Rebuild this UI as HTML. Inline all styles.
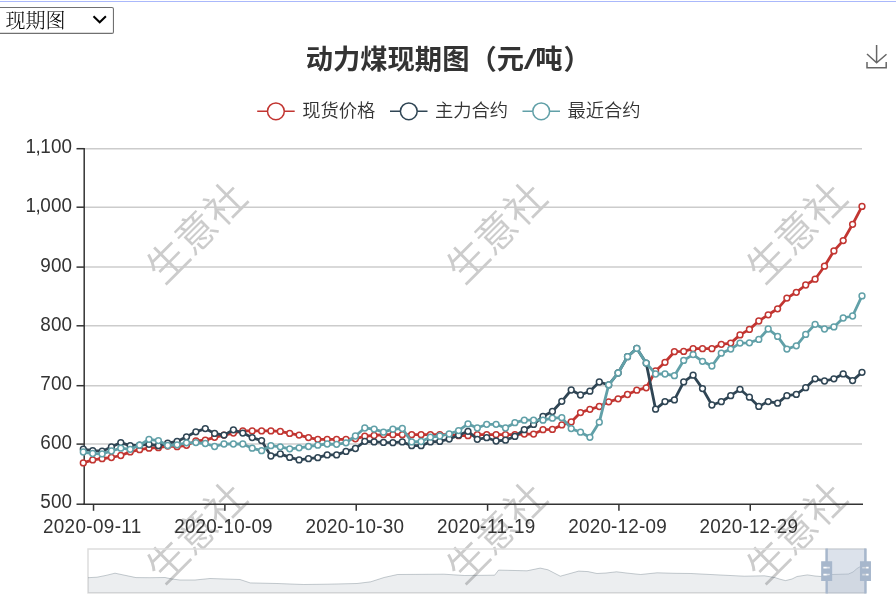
<!DOCTYPE html>
<html lang="zh-CN"><head><meta charset="utf-8"><title>动力煤现期图</title>
<style>
html,body{margin:0;padding:0;background:#fff;}
body{width:896px;height:614px;position:relative;overflow:hidden;font-family:"Liberation Sans","Noto Sans CJK SC",sans-serif;}
.topline{position:absolute;left:0;top:1px;width:896px;height:1px;background:#aab8fb;}
.sel{position:absolute;left:-2px;top:6.7px;width:114px;height:25.8px;border:1px solid transparent;border-radius:3.5px;background:transparent;box-sizing:content-box;}
.sel span{position:absolute;left:6.5px;top:1.5px;font-size:20px;font-weight:300;line-height:25.8px;color:#000;font-family:"Liberation Serif","Noto Serif CJK SC",serif;white-space:nowrap;}
.sel svg{position:absolute;left:93.0px;top:7.1px;}
</style></head><body>
<div class="topline"></div>
<svg width="896" height="614" viewBox="0 0 896 614" style="position:absolute;left:0;top:0;will-change:transform">
<text x="194.0" y="248.0" transform="rotate(-45 194.0 230.2)" text-anchor="middle" font-size="40.5" font-weight="350" fill="#cccccc" font-family='"Liberation Sans","Noto Sans CJK SC",sans-serif'>生意社</text>
<text x="494.0" y="248.0" transform="rotate(-45 494.0 230.2)" text-anchor="middle" font-size="40.5" font-weight="350" fill="#cccccc" font-family='"Liberation Sans","Noto Sans CJK SC",sans-serif'>生意社</text>
<text x="794.0" y="248.0" transform="rotate(-45 794.0 230.2)" text-anchor="middle" font-size="40.5" font-weight="350" fill="#cccccc" font-family='"Liberation Sans","Noto Sans CJK SC",sans-serif'>生意社</text>
<text x="194.0" y="548.0" transform="rotate(-45 194.0 530.2)" text-anchor="middle" font-size="40.5" font-weight="350" fill="#cccccc" font-family='"Liberation Sans","Noto Sans CJK SC",sans-serif'>生意社</text>
<text x="494.0" y="548.0" transform="rotate(-45 494.0 530.2)" text-anchor="middle" font-size="40.5" font-weight="350" fill="#cccccc" font-family='"Liberation Sans","Noto Sans CJK SC",sans-serif'>生意社</text>
<text x="794.0" y="548.0" transform="rotate(-45 794.0 530.2)" text-anchor="middle" font-size="40.5" font-weight="350" fill="#cccccc" font-family='"Liberation Sans","Noto Sans CJK SC",sans-serif'>生意社</text>
<rect x="-3" y="7.45" width="116.45" height="25.95" rx="1.5" fill="#fff" stroke="#707070" stroke-width="1.1"/>
<g font-size="27.3" font-weight="bold" fill="#333" font-family='"Liberation Sans","Noto Sans CJK SC",sans-serif'><text x="305.7" y="69.2">动力煤现期图（元</text><text transform="translate(523.8,69.2) scale(1.75,1)" x="0" y="0" font-weight="normal">/</text><text x="535.3" y="69.2">吨<tspan dx="1">）</tspan></text></g>
<line x1="257.2" y1="111.3" x2="294.7" y2="111.3" stroke="#c23531" stroke-width="1.5"/><circle cx="275.9" cy="111.3" r="8.4" fill="#fff" stroke="#c23531" stroke-width="1.5"/><text x="302.2" y="117.2" font-size="18.3" font-weight="350" fill="#333" font-family='"Liberation Sans","Noto Sans CJK SC",sans-serif'>现货价格</text>
<line x1="390.0" y1="111.3" x2="427.5" y2="111.3" stroke="#2f4554" stroke-width="1.5"/><circle cx="408.8" cy="111.3" r="8.4" fill="#fff" stroke="#2f4554" stroke-width="1.5"/><text x="435.0" y="117.2" font-size="18.3" font-weight="350" fill="#333" font-family='"Liberation Sans","Noto Sans CJK SC",sans-serif'>主力合约</text>
<line x1="522.5" y1="111.3" x2="560.0" y2="111.3" stroke="#61a0a8" stroke-width="1.5"/><circle cx="541.2" cy="111.3" r="8.4" fill="#fff" stroke="#61a0a8" stroke-width="1.5"/><text x="567.5" y="117.2" font-size="18.3" font-weight="350" fill="#333" font-family='"Liberation Sans","Noto Sans CJK SC",sans-serif'>最近合约</text>
<path d="M867.0,54.0 L876.6,62.8 L886.5,54.2 M867.0,62.1 L867.0,67.7 L886.2,67.7 L886.2,62.1 M876.6,62.7 L876.6,45.1" fill="none" stroke="#666" stroke-width="1.5"/>
<line x1="84" y1="148.7" x2="862" y2="148.7" stroke="#ccc" stroke-width="1.5"/><line x1="84" y1="207.2" x2="862" y2="207.2" stroke="#ccc" stroke-width="1.5"/><line x1="84" y1="267.1" x2="862" y2="267.1" stroke="#ccc" stroke-width="1.5"/><line x1="84" y1="325.8" x2="862" y2="325.8" stroke="#ccc" stroke-width="1.5"/><line x1="84" y1="385.7" x2="862" y2="385.7" stroke="#ccc" stroke-width="1.5"/><line x1="84" y1="444.1" x2="862" y2="444.1" stroke="#ccc" stroke-width="1.5"/>
<g stroke="#333" stroke-width="1.5"><line x1="84.2" y1="148" x2="84.2" y2="504.9"/><line x1="83.4" y1="504.2" x2="863" y2="504.2"/><line x1="76.5" y1="148.7" x2="84" y2="148.7"/><line x1="76.5" y1="207.2" x2="84" y2="207.2"/><line x1="76.5" y1="267.1" x2="84" y2="267.1"/><line x1="76.5" y1="325.8" x2="84" y2="325.8"/><line x1="76.5" y1="385.7" x2="84" y2="385.7"/><line x1="76.5" y1="444.1" x2="84" y2="444.1"/><line x1="76.5" y1="504.2" x2="84" y2="504.2"/><line x1="93.53" y1="504" x2="93.53" y2="510.8"/><line x1="224.88" y1="504" x2="224.88" y2="510.8"/><line x1="356.23" y1="504" x2="356.23" y2="510.8"/><line x1="487.58" y1="504" x2="487.58" y2="510.8"/><line x1="618.92" y1="504" x2="618.92" y2="510.8"/><line x1="750.27" y1="504" x2="750.27" y2="510.8"/></g>
<text transform="translate(71.9,153.1) scale(0.94,1)" x="0" y="0" text-anchor="end" font-size="20.1" fill="#333" font-family='"Liberation Sans","Noto Sans CJK SC",sans-serif'>1<tspan dx="-0.4">,</tspan><tspan dx="-0.5">100</tspan></text><text transform="translate(71.9,212.3) scale(0.94,1)" x="0" y="0" text-anchor="end" font-size="20.1" fill="#333" font-family='"Liberation Sans","Noto Sans CJK SC",sans-serif'>1<tspan dx="-0.4">,</tspan><tspan dx="-0.5">000</tspan></text><text transform="translate(71.9,271.5) scale(0.94,1)" x="0" y="0" text-anchor="end" font-size="20.1" fill="#333" font-family='"Liberation Sans","Noto Sans CJK SC",sans-serif'>900</text><text transform="translate(71.9,330.8) scale(0.94,1)" x="0" y="0" text-anchor="end" font-size="20.1" fill="#333" font-family='"Liberation Sans","Noto Sans CJK SC",sans-serif'>800</text><text transform="translate(71.9,390.0) scale(0.94,1)" x="0" y="0" text-anchor="end" font-size="20.1" fill="#333" font-family='"Liberation Sans","Noto Sans CJK SC",sans-serif'>700</text><text transform="translate(71.9,449.2) scale(0.94,1)" x="0" y="0" text-anchor="end" font-size="20.1" fill="#333" font-family='"Liberation Sans","Noto Sans CJK SC",sans-serif'>600</text><text transform="translate(71.9,508.4) scale(0.94,1)" x="0" y="0" text-anchor="end" font-size="20.1" fill="#333" font-family='"Liberation Sans","Noto Sans CJK SC",sans-serif'>500</text>
<text transform="translate(92.1,532.8) scale(0.94,1)" x="0" y="0" text-anchor="middle" font-size="20.1" fill="#333" textLength="104.7" lengthAdjust="spacing" font-family='"Liberation Sans","Noto Sans CJK SC",sans-serif'>2020-09-11</text><text transform="translate(223.4,532.8) scale(0.94,1)" x="0" y="0" text-anchor="middle" font-size="20.1" fill="#333" textLength="104.7" lengthAdjust="spacing" font-family='"Liberation Sans","Noto Sans CJK SC",sans-serif'>2020-10-09</text><text transform="translate(354.8,532.8) scale(0.94,1)" x="0" y="0" text-anchor="middle" font-size="20.1" fill="#333" textLength="104.7" lengthAdjust="spacing" font-family='"Liberation Sans","Noto Sans CJK SC",sans-serif'>2020-10-30</text><text transform="translate(486.1,532.8) scale(0.94,1)" x="0" y="0" text-anchor="middle" font-size="20.1" fill="#333" textLength="104.7" lengthAdjust="spacing" font-family='"Liberation Sans","Noto Sans CJK SC",sans-serif'>2020-11-19</text><text transform="translate(617.5,532.8) scale(0.94,1)" x="0" y="0" text-anchor="middle" font-size="20.1" fill="#333" textLength="104.7" lengthAdjust="spacing" font-family='"Liberation Sans","Noto Sans CJK SC",sans-serif'>2020-12-09</text><text transform="translate(748.8,532.8) scale(0.94,1)" x="0" y="0" text-anchor="middle" font-size="20.1" fill="#333" textLength="104.7" lengthAdjust="spacing" font-family='"Liberation Sans","Noto Sans CJK SC",sans-serif'>2020-12-29</text>
<polyline points="83.3,462.9 92.7,459.9 102.1,458.7 111.4,457.5 120.8,455.5 130.2,451.9 139.6,449.7 149.0,448.2 158.4,447.7 167.7,446.0 177.1,446.7 186.5,445.3 195.9,441.0 205.3,440.1 214.6,437.3 224.0,435.1 233.4,433.1 242.8,430.9 252.2,430.9 261.6,430.9 270.9,430.9 280.3,431.4 289.7,433.4 299.1,435.1 308.5,437.6 317.8,439.3 327.2,439.3 336.6,439.3 346.0,439.3 355.4,438.8 364.8,436.2 374.1,435.5 383.5,434.7 392.9,434.7 402.3,434.7 411.7,434.7 421.1,434.7 430.4,434.7 439.8,434.7 449.2,434.7 458.6,435.7 468.0,435.7 477.3,434.7 486.7,434.7 496.1,434.7 505.5,434.7 514.9,434.7 524.3,434.1 533.6,434.1 543.0,429.7 552.4,429.4 561.8,424.9 571.2,421.9 580.5,412.6 589.9,409.3 599.3,406.5 608.7,401.8 618.1,398.8 627.5,394.5 636.8,390.2 646.2,387.8 655.6,371.0 665.0,362.3 674.4,351.7 683.7,351.4 693.1,348.7 702.5,348.7 711.9,348.7 721.3,344.3 730.7,343.1 740.0,334.9 749.4,329.4 758.8,321.0 768.2,314.8 777.6,308.8 786.9,298.1 796.3,292.3 805.7,285.0 815.1,279.2 824.5,266.2 833.9,250.9 843.2,240.6 852.6,224.3 862.0,206.4" fill="none" stroke="#c23531" stroke-width="2.8" stroke-linejoin="bevel"/>
<g fill="#fff" stroke="#c23531" stroke-width="1.5"><circle cx="83.3" cy="462.9" r="2.9"/><circle cx="92.7" cy="459.9" r="2.9"/><circle cx="102.1" cy="458.7" r="2.9"/><circle cx="111.4" cy="457.5" r="2.9"/><circle cx="120.8" cy="455.5" r="2.9"/><circle cx="130.2" cy="451.9" r="2.9"/><circle cx="139.6" cy="449.7" r="2.9"/><circle cx="149.0" cy="448.2" r="2.9"/><circle cx="158.4" cy="447.7" r="2.9"/><circle cx="167.7" cy="446.0" r="2.9"/><circle cx="177.1" cy="446.7" r="2.9"/><circle cx="186.5" cy="445.3" r="2.9"/><circle cx="195.9" cy="441.0" r="2.9"/><circle cx="205.3" cy="440.1" r="2.9"/><circle cx="214.6" cy="437.3" r="2.9"/><circle cx="224.0" cy="435.1" r="2.9"/><circle cx="233.4" cy="433.1" r="2.9"/><circle cx="242.8" cy="430.9" r="2.9"/><circle cx="252.2" cy="430.9" r="2.9"/><circle cx="261.6" cy="430.9" r="2.9"/><circle cx="270.9" cy="430.9" r="2.9"/><circle cx="280.3" cy="431.4" r="2.9"/><circle cx="289.7" cy="433.4" r="2.9"/><circle cx="299.1" cy="435.1" r="2.9"/><circle cx="308.5" cy="437.6" r="2.9"/><circle cx="317.8" cy="439.3" r="2.9"/><circle cx="327.2" cy="439.3" r="2.9"/><circle cx="336.6" cy="439.3" r="2.9"/><circle cx="346.0" cy="439.3" r="2.9"/><circle cx="355.4" cy="438.8" r="2.9"/><circle cx="364.8" cy="436.2" r="2.9"/><circle cx="374.1" cy="435.5" r="2.9"/><circle cx="383.5" cy="434.7" r="2.9"/><circle cx="392.9" cy="434.7" r="2.9"/><circle cx="402.3" cy="434.7" r="2.9"/><circle cx="411.7" cy="434.7" r="2.9"/><circle cx="421.1" cy="434.7" r="2.9"/><circle cx="430.4" cy="434.7" r="2.9"/><circle cx="439.8" cy="434.7" r="2.9"/><circle cx="449.2" cy="434.7" r="2.9"/><circle cx="458.6" cy="435.7" r="2.9"/><circle cx="468.0" cy="435.7" r="2.9"/><circle cx="477.3" cy="434.7" r="2.9"/><circle cx="486.7" cy="434.7" r="2.9"/><circle cx="496.1" cy="434.7" r="2.9"/><circle cx="505.5" cy="434.7" r="2.9"/><circle cx="514.9" cy="434.7" r="2.9"/><circle cx="524.3" cy="434.1" r="2.9"/><circle cx="533.6" cy="434.1" r="2.9"/><circle cx="543.0" cy="429.7" r="2.9"/><circle cx="552.4" cy="429.4" r="2.9"/><circle cx="561.8" cy="424.9" r="2.9"/><circle cx="571.2" cy="421.9" r="2.9"/><circle cx="580.5" cy="412.6" r="2.9"/><circle cx="589.9" cy="409.3" r="2.9"/><circle cx="599.3" cy="406.5" r="2.9"/><circle cx="608.7" cy="401.8" r="2.9"/><circle cx="618.1" cy="398.8" r="2.9"/><circle cx="627.5" cy="394.5" r="2.9"/><circle cx="636.8" cy="390.2" r="2.9"/><circle cx="646.2" cy="387.8" r="2.9"/><circle cx="655.6" cy="371.0" r="2.9"/><circle cx="665.0" cy="362.3" r="2.9"/><circle cx="674.4" cy="351.7" r="2.9"/><circle cx="683.7" cy="351.4" r="2.9"/><circle cx="693.1" cy="348.7" r="2.9"/><circle cx="702.5" cy="348.7" r="2.9"/><circle cx="711.9" cy="348.7" r="2.9"/><circle cx="721.3" cy="344.3" r="2.9"/><circle cx="730.7" cy="343.1" r="2.9"/><circle cx="740.0" cy="334.9" r="2.9"/><circle cx="749.4" cy="329.4" r="2.9"/><circle cx="758.8" cy="321.0" r="2.9"/><circle cx="768.2" cy="314.8" r="2.9"/><circle cx="777.6" cy="308.8" r="2.9"/><circle cx="786.9" cy="298.1" r="2.9"/><circle cx="796.3" cy="292.3" r="2.9"/><circle cx="805.7" cy="285.0" r="2.9"/><circle cx="815.1" cy="279.2" r="2.9"/><circle cx="824.5" cy="266.2" r="2.9"/><circle cx="833.9" cy="250.9" r="2.9"/><circle cx="843.2" cy="240.6" r="2.9"/><circle cx="852.6" cy="224.3" r="2.9"/><circle cx="862.0" cy="206.4" r="2.9"/></g>
<polyline points="83.3,449.2 92.7,450.6 102.1,451.2 111.4,447.0 120.8,442.6 130.2,445.7 139.6,445.2 149.0,444.3 158.4,445.7 167.7,443.1 177.1,441.5 186.5,436.8 195.9,431.8 205.3,428.6 214.6,433.4 224.0,435.1 233.4,429.8 242.8,433.1 252.2,437.6 261.6,440.6 270.9,456.0 280.3,453.9 289.7,457.4 299.1,459.9 308.5,458.7 317.8,457.7 327.2,454.9 336.6,454.9 346.0,451.4 355.4,448.5 364.8,441.3 374.1,441.9 383.5,442.4 392.9,442.7 402.3,441.9 411.7,445.7 421.1,445.7 430.4,441.9 439.8,441.4 449.2,439.0 458.6,435.2 468.0,431.3 477.3,439.3 486.7,437.7 496.1,441.0 505.5,440.2 514.9,436.4 524.3,429.7 533.6,424.4 543.0,416.3 552.4,411.5 561.8,401.3 571.2,390.0 580.5,395.0 589.9,391.2 599.3,382.0 608.7,384.9 618.1,373.0 627.5,356.7 636.8,348.4 646.2,363.1 655.6,409.2 665.0,401.6 674.4,399.9 683.7,381.9 693.1,375.2 702.5,388.6 711.9,405.0 721.3,401.7 730.7,395.7 740.0,389.3 749.4,397.2 758.8,406.4 768.2,401.6 777.6,403.2 786.9,395.7 796.3,394.4 805.7,387.7 815.1,378.8 824.5,381.0 833.9,378.8 843.2,373.9 852.6,380.6 862.0,372.3" fill="none" stroke="#2f4554" stroke-width="2.8" stroke-linejoin="bevel"/>
<g fill="#fff" stroke="#2f4554" stroke-width="1.5"><circle cx="83.3" cy="449.2" r="2.9"/><circle cx="92.7" cy="450.6" r="2.9"/><circle cx="102.1" cy="451.2" r="2.9"/><circle cx="111.4" cy="447.0" r="2.9"/><circle cx="120.8" cy="442.6" r="2.9"/><circle cx="130.2" cy="445.7" r="2.9"/><circle cx="139.6" cy="445.2" r="2.9"/><circle cx="149.0" cy="444.3" r="2.9"/><circle cx="158.4" cy="445.7" r="2.9"/><circle cx="167.7" cy="443.1" r="2.9"/><circle cx="177.1" cy="441.5" r="2.9"/><circle cx="186.5" cy="436.8" r="2.9"/><circle cx="195.9" cy="431.8" r="2.9"/><circle cx="205.3" cy="428.6" r="2.9"/><circle cx="214.6" cy="433.4" r="2.9"/><circle cx="224.0" cy="435.1" r="2.9"/><circle cx="233.4" cy="429.8" r="2.9"/><circle cx="242.8" cy="433.1" r="2.9"/><circle cx="252.2" cy="437.6" r="2.9"/><circle cx="261.6" cy="440.6" r="2.9"/><circle cx="270.9" cy="456.0" r="2.9"/><circle cx="280.3" cy="453.9" r="2.9"/><circle cx="289.7" cy="457.4" r="2.9"/><circle cx="299.1" cy="459.9" r="2.9"/><circle cx="308.5" cy="458.7" r="2.9"/><circle cx="317.8" cy="457.7" r="2.9"/><circle cx="327.2" cy="454.9" r="2.9"/><circle cx="336.6" cy="454.9" r="2.9"/><circle cx="346.0" cy="451.4" r="2.9"/><circle cx="355.4" cy="448.5" r="2.9"/><circle cx="364.8" cy="441.3" r="2.9"/><circle cx="374.1" cy="441.9" r="2.9"/><circle cx="383.5" cy="442.4" r="2.9"/><circle cx="392.9" cy="442.7" r="2.9"/><circle cx="402.3" cy="441.9" r="2.9"/><circle cx="411.7" cy="445.7" r="2.9"/><circle cx="421.1" cy="445.7" r="2.9"/><circle cx="430.4" cy="441.9" r="2.9"/><circle cx="439.8" cy="441.4" r="2.9"/><circle cx="449.2" cy="439.0" r="2.9"/><circle cx="458.6" cy="435.2" r="2.9"/><circle cx="468.0" cy="431.3" r="2.9"/><circle cx="477.3" cy="439.3" r="2.9"/><circle cx="486.7" cy="437.7" r="2.9"/><circle cx="496.1" cy="441.0" r="2.9"/><circle cx="505.5" cy="440.2" r="2.9"/><circle cx="514.9" cy="436.4" r="2.9"/><circle cx="524.3" cy="429.7" r="2.9"/><circle cx="533.6" cy="424.4" r="2.9"/><circle cx="543.0" cy="416.3" r="2.9"/><circle cx="552.4" cy="411.5" r="2.9"/><circle cx="561.8" cy="401.3" r="2.9"/><circle cx="571.2" cy="390.0" r="2.9"/><circle cx="580.5" cy="395.0" r="2.9"/><circle cx="589.9" cy="391.2" r="2.9"/><circle cx="599.3" cy="382.0" r="2.9"/><circle cx="608.7" cy="384.9" r="2.9"/><circle cx="618.1" cy="373.0" r="2.9"/><circle cx="627.5" cy="356.7" r="2.9"/><circle cx="636.8" cy="348.4" r="2.9"/><circle cx="646.2" cy="363.1" r="2.9"/><circle cx="655.6" cy="409.2" r="2.9"/><circle cx="665.0" cy="401.6" r="2.9"/><circle cx="674.4" cy="399.9" r="2.9"/><circle cx="683.7" cy="381.9" r="2.9"/><circle cx="693.1" cy="375.2" r="2.9"/><circle cx="702.5" cy="388.6" r="2.9"/><circle cx="711.9" cy="405.0" r="2.9"/><circle cx="721.3" cy="401.7" r="2.9"/><circle cx="730.7" cy="395.7" r="2.9"/><circle cx="740.0" cy="389.3" r="2.9"/><circle cx="749.4" cy="397.2" r="2.9"/><circle cx="758.8" cy="406.4" r="2.9"/><circle cx="768.2" cy="401.6" r="2.9"/><circle cx="777.6" cy="403.2" r="2.9"/><circle cx="786.9" cy="395.7" r="2.9"/><circle cx="796.3" cy="394.4" r="2.9"/><circle cx="805.7" cy="387.7" r="2.9"/><circle cx="815.1" cy="378.8" r="2.9"/><circle cx="824.5" cy="381.0" r="2.9"/><circle cx="833.9" cy="378.8" r="2.9"/><circle cx="843.2" cy="373.9" r="2.9"/><circle cx="852.6" cy="380.6" r="2.9"/><circle cx="862.0" cy="372.3" r="2.9"/></g>
<polyline points="83.3,452.0 92.7,453.5 102.1,453.9 111.4,451.0 120.8,448.2 130.2,449.3 139.6,445.2 149.0,439.3 158.4,440.6 167.7,445.5 177.1,444.8 186.5,442.8 195.9,442.6 205.3,443.5 214.6,446.5 224.0,444.0 233.4,444.0 242.8,444.0 252.2,448.2 261.6,450.7 270.9,445.7 280.3,446.8 289.7,448.8 299.1,447.8 308.5,446.5 317.8,445.2 327.2,444.0 336.6,444.3 346.0,442.8 355.4,436.0 364.8,428.0 374.1,429.1 383.5,432.2 392.9,429.2 402.3,428.5 411.7,441.9 421.1,441.5 430.4,437.2 439.8,436.0 449.2,434.0 458.6,430.6 468.0,423.9 477.3,428.0 486.7,424.3 496.1,424.3 505.5,428.0 514.9,422.7 524.3,420.2 533.6,420.2 543.0,420.2 552.4,418.2 561.8,417.7 571.2,428.6 580.5,432.2 589.9,437.3 599.3,422.2 608.7,384.8 618.1,373.0 627.5,356.7 636.8,348.4 646.2,363.1 655.6,374.0 665.0,374.0 674.4,375.7 683.7,360.4 693.1,354.6 702.5,361.3 711.9,366.0 721.3,353.2 730.7,349.1 740.0,343.1 749.4,342.8 758.8,339.4 768.2,329.0 777.6,336.4 786.9,349.1 796.3,345.8 805.7,334.4 815.1,324.3 824.5,329.0 833.9,326.9 843.2,318.0 852.6,316.0 862.0,295.9" fill="none" stroke="#61a0a8" stroke-width="2.8" stroke-linejoin="bevel"/>
<g fill="#fff" stroke="#61a0a8" stroke-width="1.5"><circle cx="83.3" cy="452.0" r="2.9"/><circle cx="92.7" cy="453.5" r="2.9"/><circle cx="102.1" cy="453.9" r="2.9"/><circle cx="111.4" cy="451.0" r="2.9"/><circle cx="120.8" cy="448.2" r="2.9"/><circle cx="130.2" cy="449.3" r="2.9"/><circle cx="139.6" cy="445.2" r="2.9"/><circle cx="149.0" cy="439.3" r="2.9"/><circle cx="158.4" cy="440.6" r="2.9"/><circle cx="167.7" cy="445.5" r="2.9"/><circle cx="177.1" cy="444.8" r="2.9"/><circle cx="186.5" cy="442.8" r="2.9"/><circle cx="195.9" cy="442.6" r="2.9"/><circle cx="205.3" cy="443.5" r="2.9"/><circle cx="214.6" cy="446.5" r="2.9"/><circle cx="224.0" cy="444.0" r="2.9"/><circle cx="233.4" cy="444.0" r="2.9"/><circle cx="242.8" cy="444.0" r="2.9"/><circle cx="252.2" cy="448.2" r="2.9"/><circle cx="261.6" cy="450.7" r="2.9"/><circle cx="270.9" cy="445.7" r="2.9"/><circle cx="280.3" cy="446.8" r="2.9"/><circle cx="289.7" cy="448.8" r="2.9"/><circle cx="299.1" cy="447.8" r="2.9"/><circle cx="308.5" cy="446.5" r="2.9"/><circle cx="317.8" cy="445.2" r="2.9"/><circle cx="327.2" cy="444.0" r="2.9"/><circle cx="336.6" cy="444.3" r="2.9"/><circle cx="346.0" cy="442.8" r="2.9"/><circle cx="355.4" cy="436.0" r="2.9"/><circle cx="364.8" cy="428.0" r="2.9"/><circle cx="374.1" cy="429.1" r="2.9"/><circle cx="383.5" cy="432.2" r="2.9"/><circle cx="392.9" cy="429.2" r="2.9"/><circle cx="402.3" cy="428.5" r="2.9"/><circle cx="411.7" cy="441.9" r="2.9"/><circle cx="421.1" cy="441.5" r="2.9"/><circle cx="430.4" cy="437.2" r="2.9"/><circle cx="439.8" cy="436.0" r="2.9"/><circle cx="449.2" cy="434.0" r="2.9"/><circle cx="458.6" cy="430.6" r="2.9"/><circle cx="468.0" cy="423.9" r="2.9"/><circle cx="477.3" cy="428.0" r="2.9"/><circle cx="486.7" cy="424.3" r="2.9"/><circle cx="496.1" cy="424.3" r="2.9"/><circle cx="505.5" cy="428.0" r="2.9"/><circle cx="514.9" cy="422.7" r="2.9"/><circle cx="524.3" cy="420.2" r="2.9"/><circle cx="533.6" cy="420.2" r="2.9"/><circle cx="543.0" cy="420.2" r="2.9"/><circle cx="552.4" cy="418.2" r="2.9"/><circle cx="561.8" cy="417.7" r="2.9"/><circle cx="571.2" cy="428.6" r="2.9"/><circle cx="580.5" cy="432.2" r="2.9"/><circle cx="589.9" cy="437.3" r="2.9"/><circle cx="599.3" cy="422.2" r="2.9"/><circle cx="608.7" cy="384.8" r="2.9"/><circle cx="618.1" cy="373.0" r="2.9"/><circle cx="627.5" cy="356.7" r="2.9"/><circle cx="636.8" cy="348.4" r="2.9"/><circle cx="646.2" cy="363.1" r="2.9"/><circle cx="655.6" cy="374.0" r="2.9"/><circle cx="665.0" cy="374.0" r="2.9"/><circle cx="674.4" cy="375.7" r="2.9"/><circle cx="683.7" cy="360.4" r="2.9"/><circle cx="693.1" cy="354.6" r="2.9"/><circle cx="702.5" cy="361.3" r="2.9"/><circle cx="711.9" cy="366.0" r="2.9"/><circle cx="721.3" cy="353.2" r="2.9"/><circle cx="730.7" cy="349.1" r="2.9"/><circle cx="740.0" cy="343.1" r="2.9"/><circle cx="749.4" cy="342.8" r="2.9"/><circle cx="758.8" cy="339.4" r="2.9"/><circle cx="768.2" cy="329.0" r="2.9"/><circle cx="777.6" cy="336.4" r="2.9"/><circle cx="786.9" cy="349.1" r="2.9"/><circle cx="796.3" cy="345.8" r="2.9"/><circle cx="805.7" cy="334.4" r="2.9"/><circle cx="815.1" cy="324.3" r="2.9"/><circle cx="824.5" cy="329.0" r="2.9"/><circle cx="833.9" cy="326.9" r="2.9"/><circle cx="843.2" cy="318.0" r="2.9"/><circle cx="852.6" cy="316.0" r="2.9"/><circle cx="862.0" cy="295.9" r="2.9"/></g>
<rect x="88" y="549.0" width="777.5" height="43.9" fill="none" stroke="#ddd" stroke-width="1.5"/>
<polygon points="88,593 88.0,577.7 97.0,577.2 106.0,575.4 115.0,573.2 125.0,575.3 136.0,577.6 150.0,577.7 165.0,577.5 172.0,579.0 180.0,580.0 195.0,580.0 210.0,578.5 240.0,579.5 250.2,582.9 277.0,583.5 303.7,584.5 327.0,584.2 357.0,583.5 370.7,581.8 384.0,577.5 397.5,574.5 444.0,574.2 464.4,575.5 494.6,575.2 498.6,570.1 527.0,570.8 540.2,568.1 548.0,569.8 560.3,576.2 570.0,573.5 578.7,571.1 588.0,571.6 597.0,573.5 606.0,573.0 616.5,571.8 628.0,573.2 640.6,574.5 657.0,572.8 675.0,573.3 690.9,573.5 724.0,575.2 744.4,576.2 764.5,575.8 775.0,577.6 780.0,579.2 785.5,580.6 792.0,579.0 797.0,576.5 807.4,574.9 815.0,576.0 821.0,576.5 826.5,576.5 832.0,574.5 848.4,574.0 853.0,572.0 857.0,568.5 860.0,566.7 865.5,566.0 865.5,593" fill="rgb(47,69,84)" fill-opacity="0.09"/>
<polyline points="88.0,577.7 97.0,577.2 106.0,575.4 115.0,573.2 125.0,575.3 136.0,577.6 150.0,577.7 165.0,577.5 172.0,579.0 180.0,580.0 195.0,580.0 210.0,578.5 240.0,579.5 250.2,582.9 277.0,583.5 303.7,584.5 327.0,584.2 357.0,583.5 370.7,581.8 384.0,577.5 397.5,574.5 444.0,574.2 464.4,575.5 494.6,575.2 498.6,570.1 527.0,570.8 540.2,568.1 548.0,569.8 560.3,576.2 570.0,573.5 578.7,571.1 588.0,571.6 597.0,573.5 606.0,573.0 616.5,571.8 628.0,573.2 640.6,574.5 657.0,572.8 675.0,573.3 690.9,573.5 724.0,575.2 744.4,576.2 764.5,575.8 775.0,577.6 780.0,579.2 785.5,580.6 792.0,579.0 797.0,576.5 807.4,574.9 815.0,576.0 821.0,576.5 826.5,576.5 832.0,574.5 848.4,574.0 853.0,572.0 857.0,568.5 860.0,566.7 865.5,566.0" fill="none" stroke="#2f4554" stroke-opacity="0.3" stroke-width="0.9"/>
<rect x="826.6" y="548.6" width="38.8" height="45" fill="rgb(167,183,204)" fill-opacity="0.4"/>
<path d="M827.85,561.33 V548.60 H825.35 V561.33 H821.16 V580.88 H825.48 V593.60 H827.85 V580.88 H832.18 V561.33 H827.85 Z M829.81,575.50 H823.39 V573.66 H829.81 Z M829.81,568.54 H823.39 V566.71 H829.81 Z" fill="#a7b7cc" fill-rule="evenodd"/><path d="M866.65,561.33 V548.60 H864.15 V561.33 H859.96 V580.88 H864.28 V593.60 H866.65 V580.88 H870.98 V561.33 H866.65 Z M868.61,575.50 H862.19 V573.66 H868.61 Z M868.61,568.54 H862.19 V566.71 H868.61 Z" fill="#a7b7cc" fill-rule="evenodd"/>
</svg>

<div class="sel"><span>现期图</span><svg width="16" height="10" viewBox="0 0 16 10"><path d="M1.5,1.2 L7.7,7.3 L13.9,1.2" fill="none" stroke="#000" stroke-width="2"/></svg></div>
</body></html>
